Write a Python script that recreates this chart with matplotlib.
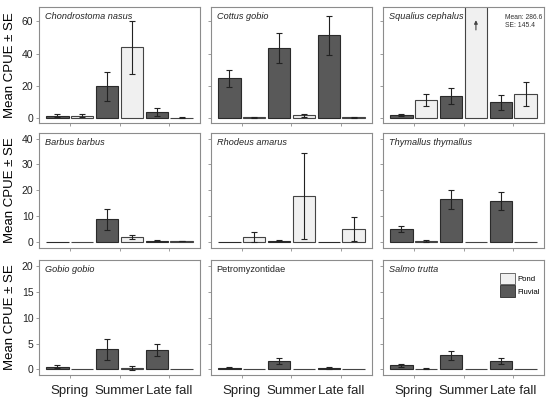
import numpy as np
import matplotlib
matplotlib.use("Agg")
import matplotlib.pyplot as plt
from matplotlib.patches import Patch

plt.rcParams["font.family"] = ["Liberation Sans", "DejaVu Sans"]

seasons = ["Spring", "Summer", "Late fall"]

species = [
    "Chondrostoma nasus", "Cottus gobio", "Squalius cephalus",
    "Barbus barbus", "Rhodeus amarus", "Thymallus thymallus",
    "Gobio gobio", "Petromyzontidae", "Salmo trutta",
]
italic = [True, True, True, True, True, True, True, False, True]

# mean CPUE per season (Spring, Summer, Late fall)
fluvial_mean = [
    [1.3, 19.6, 3.7],
    [24.5, 43.3, 51.4],
    [1.7, 13.8, 9.8],
    [0.0, 8.6, 0.3],
    [0.0, 0.4, 0.0],
    [4.9, 16.4, 15.6],
    [0.5, 3.9, 3.7],
    [0.3, 1.6, 0.3],
    [0.76, 2.7, 1.6],
]
fluvial_se = [
    [1.0, 9.0, 2.4],
    [5.5, 9.4, 12.2],
    [0.6, 5.0, 4.7],
    [0.0, 4.0, 0.15],
    [0.0, 0.2, 0.0],
    [1.2, 3.7, 3.5],
    [0.3, 2.0, 1.2],
    [0.1, 0.6, 0.2],
    [0.3, 0.9, 0.55],
]
pond_mean = [
    [1.3, 43.9, 0.2],
    [0.3, 1.5, 0.3],
    [11.1, 286.6, 14.7],
    [0.0, 1.8, 0.2],
    [1.9, 17.8, 4.9],
    [0.4, 0.0, 0.0],
    [0.0, 0.3, 0.0],
    [0.0, 0.0, 0.0],
    [0.15, 0.0, 0.0],
]
pond_se = [
    [1.0, 16.5, 0.2],
    [0.3, 1.0, 0.3],
    [3.9, 145.4, 7.5],
    [0.0, 0.85, 0.1],
    [2.0, 16.8, 4.5],
    [0.4, 0.0, 0.0],
    [0.0, 0.4, 0.0],
    [0.0, 0.0, 0.0],
    [0.05, 0.0, 0.0],
]

row_ylim = [(-3.2, 69), (-2.5, 42.2), (-1.1, 21.2)]
row_ticks = [[0, 20, 40, 60], [0, 10, 20, 30, 40], [0, 5, 10, 15, 20]]

dark = "#595959"
light = "#f0f0f0"
grey = "#8c8c8c"

fig = plt.figure(figsize=(5.5, 3.98), dpi=100)
lefts = [39 / 550, 211 / 550, 383 / 550]
width = 161 / 550
bottoms = [1 - 123 / 398, 1 - 248 / 398, 1 - 375 / 398]
heights = [116 / 398, 115 / 398, 115 / 398]

x = np.arange(1, 4)
bw = 0.45
for i, name in enumerate(species):
    r, c = divmod(i, 3)
    ax = fig.add_axes([lefts[c], bottoms[r], width, heights[r]])
    fm = np.array(fluvial_mean[i])
    fs = np.array(fluvial_se[i])
    pm = np.array(pond_mean[i])
    ps = np.array(pond_se[i])
    ax.bar(x - 0.25, fm, bw, color=dark, edgecolor="#2a2a2a", linewidth=0.8, zorder=2)
    ax.bar(x + 0.25, pm, bw, color=light, edgecolor="#444444", linewidth=0.8, zorder=2)
    m = fs > 0
    ax.errorbar((x - 0.25)[m], fm[m], yerr=fs[m], fmt="none", ecolor="#222222",
                elinewidth=0.8, capsize=2, capthick=0.8, zorder=3)
    m = ps > 0
    ax.errorbar((x + 0.25)[m], pm[m], yerr=ps[m], fmt="none", ecolor="#222222",
                elinewidth=0.8, capsize=2, capthick=0.8, zorder=3)

    ax.set_xlim(0.38, 3.62)
    ax.set_ylim(*row_ylim[r])
    ax.set_yticks(row_ticks[r])
    ax.set_xticks(x)
    ax.tick_params(length=2, width=0.6, color=grey, labelsize=7.5, pad=2,
                   labelcolor="#222222")
    for s in ax.spines.values():
        s.set_color(grey)
        s.set_linewidth(0.8)
    if c == 0:
        ax.set_ylabel("Mean CPUE \u00b1 SE", fontsize=9.5, labelpad=4)
    else:
        ax.set_yticklabels([])
    if r == 2:
        ax.set_xticklabels(seasons, fontsize=9.5)
        ax.tick_params(axis="x", pad=5)
    else:
        ax.set_xticklabels([])

    ax.text(0.035, 0.955, name, transform=ax.transAxes, fontsize=6.6,
            style="italic" if italic[i] else "normal", va="top", ha="left",
            color="#222222")

    if name == "Squalius cephalus":
        ax.annotate("", xy=(2.25, 62.5), xytext=(2.25, 53),
                    arrowprops=dict(arrowstyle="-|>", color="#444444", lw=0.8,
                                    mutation_scale=5))
        ax.text(0.755, 0.94, "Mean: %.1f\nSE: %.1f" % (pond_mean[i][1], pond_se[i][1]),
                transform=ax.transAxes, fontsize=4.9, va="top", ha="left",
                color="#333333", linespacing=1.15)
    if name == "Salmo trutta":
        handles = [Patch(facecolor=light, edgecolor="#555555", linewidth=0.6),
                   Patch(facecolor=dark, edgecolor="#2a2a2a", linewidth=0.6)]
        ax.legend(handles, ["Pond", "Fluvial"], loc="upper right", frameon=False,
                  fontsize=5.6, handlelength=1.9, handleheight=1.9,
                  handletextpad=0.4, labelspacing=0.15,
                  bbox_to_anchor=(1.02, 0.95))

fig.savefig("out.png", dpi=100)
